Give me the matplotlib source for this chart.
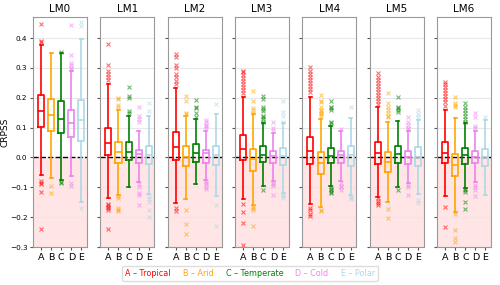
import matplotlib.pyplot as plt
from matplotlib.lines import Line2D

models = ["LM0", "LM1", "LM2", "LM3", "LM4", "LM5", "LM6"]
classes = ["A", "B", "C", "D", "E"]
class_names = ["Tropical", "Arid", "Temperate", "Cold", "Polar"]
colors = ["red", "orange", "green", "violet", "lightblue"]

# box stats per model, per class (A..E)
whislo = [[-0.060, -0.069, -0.075, -0.062, -0.150],
          [-0.137, -0.127, -0.099, -0.082, -0.121],
          [-0.152, -0.138, -0.090, -0.077, -0.129],
          [-0.140, -0.160, -0.096, -0.079, -0.118],
          [-0.157, -0.166, -0.096, -0.080, -0.127],
          [-0.132, -0.149, -0.099, -0.086, -0.121],
          [-0.129, -0.182, -0.102, -0.082, -0.127]]
q1 = [[0.103, 0.090, 0.083, 0.070, 0.054],
      [0.007, -0.017, -0.010, -0.018, -0.023],
      [-0.008, -0.030, -0.016, -0.018, -0.024],
      [-0.010, -0.046, -0.016, -0.018, -0.024],
      [-0.021, -0.054, -0.018, -0.018, -0.029],
      [-0.021, -0.047, -0.017, -0.021, -0.027],
      [-0.019, -0.062, -0.021, -0.019, -0.029]]
med = [[0.157, 0.143, 0.130, 0.114, 0.126],
       [0.050, 0.018, 0.020, 0.010, 0.009],
       [0.034, 0.001, 0.016, 0.014, 0.007],
       [0.027, -0.005, 0.009, 0.004, 0.004],
       [0.021, -0.018, 0.004, 0.007, 0.007],
       [0.016, -0.016, 0.010, 0.003, 0.001],
       [0.014, -0.024, 0.007, 0.001, 0.001]]
q3 = [[0.210, 0.197, 0.188, 0.160, 0.192],
      [0.100, 0.051, 0.051, 0.026, 0.040],
      [0.084, 0.038, 0.046, 0.026, 0.040],
      [0.075, 0.029, 0.038, 0.021, 0.032],
      [0.068, 0.018, 0.032, 0.023, 0.037],
      [0.053, 0.020, 0.040, 0.021, 0.034],
      [0.051, 0.012, 0.032, 0.023, 0.029]]
whishi = [[0.375, 0.350, 0.350, 0.290, 0.398],
          [0.245, 0.160, 0.140, 0.090, 0.140],
          [0.232, 0.140, 0.130, 0.090, 0.145],
          [0.204, 0.146, 0.115, 0.081, 0.115],
          [0.203, 0.129, 0.107, 0.090, 0.132],
          [0.168, 0.120, 0.123, 0.088, 0.127],
          [0.159, 0.131, 0.115, 0.090, 0.126]]
fliers = [
    [[0.446, 0.39, 0.385, -0.08, -0.085, -0.09, -0.117, -0.24],
     [-0.095, -0.118],
     [0.352, -0.083, -0.087],
     [0.443, 0.343, 0.317, 0.31, 0.30, 0.295, -0.085, -0.095],
     [0.452, 0.44, -0.168]],
    [[0.38, 0.31, 0.29, 0.28, 0.27, 0.26, -0.155, -0.16, -0.165, -0.17, -0.175, -0.24],
     [0.2, 0.195, 0.175, 0.17, -0.13, -0.135, -0.17, -0.175, -0.18],
     [0.235, 0.205, 0.2, 0.155, 0.15],
     [0.17, 0.14, 0.13, 0.12, -0.09, -0.1, -0.12, -0.125, -0.16],
     [0.184, 0.157, -0.13, -0.14, -0.15, -0.175, -0.2]],
    [[0.348, 0.335, 0.31, 0.3, 0.28, 0.27, 0.255, 0.245, -0.17, -0.18],
     [0.207, 0.19, 0.15, 0.145, -0.177, -0.223, -0.257],
     [0.192, 0.17, 0.166, 0.15, 0.137],
     [0.125, 0.12, 0.11, 0.105, 0.1, -0.08, -0.085, -0.09, -0.1, -0.105],
     [0.18, -0.16, -0.229]],
    [[0.29, 0.285, 0.275, 0.265, 0.255, 0.245, 0.235, 0.225, 0.215, -0.155, -0.181, -0.218, -0.294],
     [0.223, 0.188, 0.167, 0.16, 0.15, -0.165, -0.17, -0.175, -0.23],
     [0.207, 0.195, 0.17, 0.163, 0.157, 0.14, 0.135, 0.13, 0.12, -0.11],
     [0.118, 0.1, 0.09, -0.085, -0.09, -0.095, -0.127],
     [0.19, 0.153, 0.14, 0.12, -0.125, -0.13, -0.135]],
    [[0.303, 0.29, 0.28, 0.27, 0.26, 0.25, 0.24, 0.23, 0.22, -0.168, -0.177, -0.19, -0.195],
     [0.209, 0.19, 0.185, 0.17, 0.16, 0.155, 0.15, 0.145, 0.14, -0.175, -0.18],
     [0.19, 0.17, 0.165, 0.16, 0.12, 0.115, -0.1, -0.105, -0.11, -0.115, -0.12],
     [0.095, -0.087, -0.095, -0.1, -0.108],
     [0.168, -0.13, -0.135, -0.14]],
    [[0.282, 0.27, 0.26, 0.25, 0.24, 0.23, 0.22, 0.21, 0.2, 0.19, 0.179, -0.137, -0.145, -0.152, -0.16],
     [0.216, 0.181, 0.168, 0.16, 0.15, 0.14, 0.134, -0.173, -0.202],
     [0.204, 0.17, 0.165, 0.16, 0.151, -0.11],
     [0.134, 0.118, 0.11, 0.1, 0.096, -0.093, -0.1, -0.127],
     [0.16, 0.146, 0.137, -0.143, -0.153]],
    [[0.254, 0.245, 0.235, 0.225, 0.215, 0.205, 0.195, 0.185, 0.173, -0.166, -0.234],
     [0.201, 0.181, 0.175, 0.168, -0.19, -0.243, -0.269, -0.282],
     [0.181, 0.17, 0.16, 0.15, 0.14, 0.13, 0.118, -0.105, -0.11, -0.115, -0.149, -0.173],
     [0.148, 0.134, 0.107, 0.1, -0.093, -0.1, -0.11, -0.129],
     [0.137]],
]

fig, axes = plt.subplots(1, 7, figsize=(5, 2.85), dpi=100, sharey=True)
fig.subplots_adjust(left=0.066, right=0.982, bottom=0.133, top=0.94, wspace=0.25)

for m, ax in enumerate(axes):
    ax.axhspan(-0.3, 0, color="red", alpha=0.1, lw=0, zorder=0)
    ax.axhline(0, color="black", ls="--", lw=1, zorder=1)
    for k in range(5):
        st = [dict(med=med[m][k], q1=q1[m][k], q3=q3[m][k],
                   whislo=whislo[m][k], whishi=whishi[m][k], fliers=fliers[m][k])]
        c = colors[k]
        ax.bxp(st, positions=[k + 1], widths=0.6, showfliers=True,
               boxprops=dict(color=c, lw=1.2),
               whiskerprops=dict(color=c, lw=1.2),
               capprops=dict(color=c, lw=1.2),
               medianprops=dict(color=c, lw=1.2),
               flierprops=dict(marker="x", markersize=2.6, markeredgecolor=c,
                               markeredgewidth=0.8, alpha=0.55, linestyle="none"))
    ax.set_xticks(range(1, 6))
    ax.set_xticklabels(classes)
    ax.set_xlim(0.2, 5.55)
    ax.set_ylim(-0.3, 0.47)
    ax.set_yticks([-0.3, -0.2, -0.1, 0.0, 0.1, 0.2, 0.3, 0.4])
    ax.grid(axis="y", color="#e8e8e8", lw=0.8, zorder=0)
    ax.set_axisbelow(True)
    ax.set_title(models[m], fontsize=7.5, pad=4)
    ax.tick_params(labelsize=6.8, color="#555555", length=2.5, pad=1.5)
    for s in ax.spines.values():
        s.set_color("#999999")

axes[0].set_ylabel("CRPSS", fontsize=6.5)
axes[0].yaxis.set_label_coords(-0.44, 0.5)
axes[0].tick_params(axis="y", labelsize=5.2)

handles = [Line2D([], [], alpha=0) for _ in classes]
labels = [f"{a} – {n}" for a, n in zip(classes, class_names)]
fig.legend(handles, labels, loc="lower center", bbox_to_anchor=(0.5, 0.0),
           ncol=5, fontsize=5.8, labelcolor=colors, handlelength=0,
           handletextpad=0, columnspacing=1.5, borderpad=0.4,
           edgecolor="#dddddd", framealpha=1)

fig.savefig("out.png", dpi=100)
